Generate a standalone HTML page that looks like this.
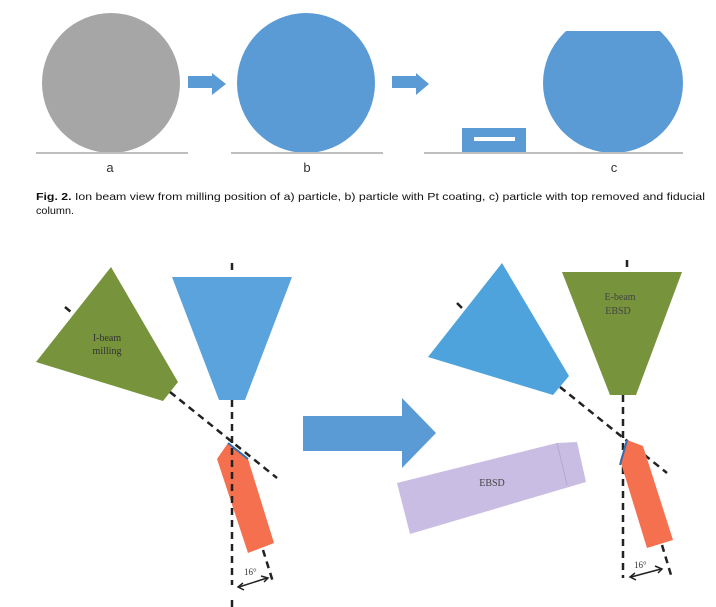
<!DOCTYPE html>
<html><head><meta charset="utf-8"><style>html,body{margin:0;padding:0;background:#fff;}svg{display:block;}</style></head>
<body>
<svg width="716" height="607" viewBox="0 0 716 607" xmlns="http://www.w3.org/2000/svg" font-family="Liberation Sans, sans-serif">
<ellipse cx="111" cy="83" rx="69" ry="70" fill="#a6a6a6"/>
<ellipse cx="306" cy="83" rx="69" ry="70" fill="#5b9bd5"/>
<clipPath id="cc"><rect x="530" y="31" width="170" height="130"/></clipPath>
<ellipse cx="613" cy="83" rx="70" ry="70" fill="#5b9bd5" clip-path="url(#cc)"/>
<g fill="#5b9bd5">
<polygon points="188,76 212,76 212,73 226,84 212,95 212,88 188,88"/>
<polygon points="392,76 416,76 416,73 429,84 416,95 416,88 392,88"/>
<rect x="462" y="128" width="64" height="25"/>
</g>
<rect x="474" y="137" width="41" height="4" fill="#fff"/>
<g stroke="#bfbfbf" stroke-width="2">
<line x1="36" y1="153" x2="188" y2="153"/>
<line x1="231" y1="153" x2="383" y2="153"/>
<line x1="424" y1="153" x2="683" y2="153"/>
</g>
<g font-size="13" fill="#333" text-anchor="middle">
<text x="110" y="172">a</text><text x="307" y="172">b</text><text x="614" y="172">c</text>
</g>
<text x="36" y="200" font-size="10.5" fill="#111" textLength="669" lengthAdjust="spacingAndGlyphs"><tspan font-weight="bold">Fig. 2.</tspan>  Ion beam view from milling position of a) particle, b) particle with Pt coating, c) particle with top removed and fiducial</text>
<text x="36" y="214" font-size="10.5" fill="#111" textLength="38" lengthAdjust="spacingAndGlyphs">column.</text>

<polygon points="111,267 36,362 163,401 178,382" fill="#77933c"/>
<polygon points="172,277 292,277 245,400 219,400" fill="#5ba3dc"/>
<g font-family="Liberation Serif, serif" font-size="10" fill="#333" text-anchor="middle">
<text x="107" y="341">I-beam</text><text x="107" y="354">milling</text>
</g>
<polygon points="217,459 228,443 248,459 274,543 248,553" fill="#f4704f"/>
<line x1="228" y1="443" x2="248" y2="459" stroke="#2f6fb5" stroke-width="2"/>
<g stroke="#222" stroke-width="2.5" stroke-dasharray="7,5" fill="none">
<line x1="232" y1="263" x2="232" y2="273"/>
<line x1="232" y1="400" x2="232" y2="585"/>
<line x1="232" y1="600" x2="232" y2="607"/>
<line x1="65" y1="307" x2="71" y2="312"/>
<line x1="170" y1="392" x2="277" y2="478"/>
<line x1="263" y1="550" x2="273" y2="582"/>
<line x1="627" y1="260" x2="627" y2="268"/>
<line x1="623" y1="395" x2="623" y2="578"/>
<line x1="457" y1="303" x2="462" y2="308"/>
<line x1="560" y1="387" x2="667" y2="473"/>
<line x1="662" y1="545" x2="671" y2="575"/>
</g>
<g stroke="#222" stroke-width="1.5" fill="none">
<line x1="239" y1="587" x2="267" y2="578"/>
<polyline points="243,583 238,587 244,590"/>
<polyline points="261,576 268,578 264,582"/>
<line x1="631" y1="577" x2="661" y2="569"/>
<polyline points="635,573 630,577 636,580"/>
<polyline points="655,566 662,569 658,573"/>
</g>
<g font-family="Liberation Serif, serif" font-size="9" fill="#333">
<text x="244" y="575">16°</text><text x="634" y="568">16°</text>
</g>
<polygon points="303,416 402,416 402,398 436,433 402,468 402,451 303,451" fill="#5b9bd5"/>
<polygon points="502,263 428,357 553,395 569,376" fill="#4ea3dc"/>
<polygon points="562,272 682,272 636,395 610,395" fill="#77933c"/>
<g font-family="Liberation Serif, serif" font-size="10" fill="#444" text-anchor="middle">
<text x="620" y="300">E-beam</text><text x="618" y="314">EBSD</text>
</g>
<polygon points="397,483 557,443 577,442 586,482 410,534" fill="#c9bde3"/>
<line x1="557" y1="443" x2="567" y2="485" stroke="#b5a8d0" stroke-width="1"/>
<text x="492" y="486" font-family="Liberation Serif, serif" font-size="10" fill="#444" text-anchor="middle">EBSD</text>
<polygon points="620,460 627,440 643,446 673,540 647,548" fill="#f4704f"/>
<line x1="627" y1="440" x2="620" y2="465" stroke="#2f6fb5" stroke-width="2"/>
</svg>
</body></html>
